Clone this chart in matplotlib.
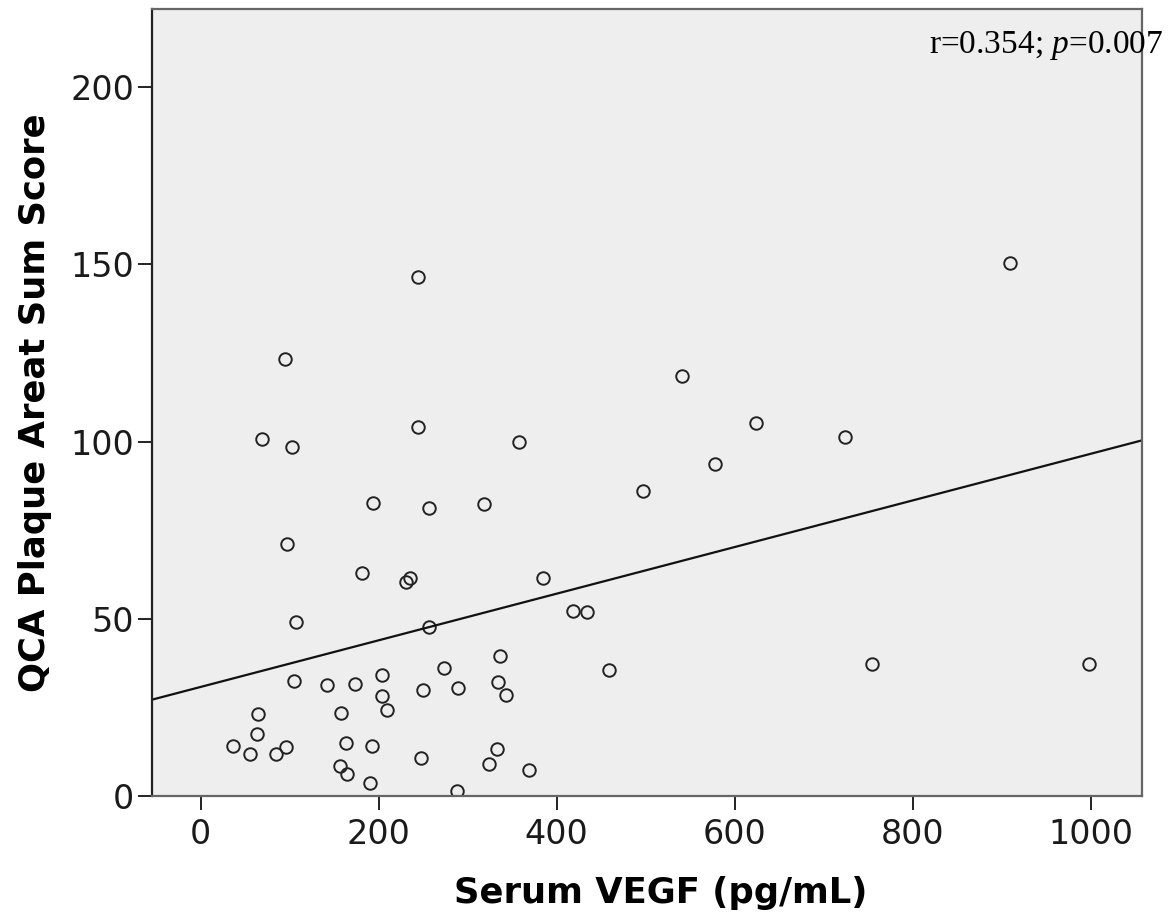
import numpy as np
import matplotlib
matplotlib.use("Agg")
import matplotlib.pyplot as plt

# values
vegf = [36, 55.4, 63.6, 64.7, 69.2, 84.6, 95.1, 95.8, 96.6, 102.6,
        104.8, 107.1, 141.6, 156.5, 157.3, 162.9, 164.7, 173.4, 181.6, 190.2,
        192.1, 193.8, 203.4, 203.4, 209, 230.7, 235.2, 243.8, 244.5, 247.2,
        249.4, 256.2, 256.2, 273, 288.3, 289.1, 318.3, 323.6, 333.3, 334.4,
        336.6, 343, 357.3, 369.2, 385, 418.7, 433.7, 459.1, 497, 540.8,
        578.2, 624.3, 724.3, 753.9, 909.3, 998.4]
plaque = [14.1, 11.9, 17.4, 23.1, 100.8, 11.9, 123.4, 13.9, 71.1, 98.5,
          32.5, 49.0, 31.3, 8.6, 23.4, 14.9, 6.2, 31.6, 62.9, 3.6,
          14.2, 82.7, 34.2, 28.1, 24.3, 60.5, 61.4, 146.5, 104.0, 10.8,
          29.9, 81.3, 47.8, 36.0, 1.5, 30.4, 82.3, 9.1, 13.2, 32.3,
          39.6, 28.5, 99.8, 7.3, 61.5, 52.3, 51.8, 35.6, 86.2, 118.6,
          93.7, 105.3, 101.2, 37.3, 150.5, 37.3]

x_ticks = [0, 200, 400, 600, 800, 1000]
y_ticks = [0, 50, 100, 150, 200]
x_range = (-55, 1057)
y_range = (0, 222)
stats_text = "r=0.354; $\\mathit{p}$=0.007"

# serif italic for the p in the stats note
plt.rcParams["mathtext.fontset"] = "custom"
plt.rcParams["mathtext.rm"] = "Liberation Serif"
plt.rcParams["mathtext.it"] = "Liberation Serif:italic"

fig = plt.figure(figsize=(11.72, 9.19), dpi=100)
ax = fig.add_axes([0.1294, 0.1338, 0.8447, 0.8561])
ax.set_facecolor("#eeeeee")

ax.plot(vegf, plaque, "o", ms=9, mfc="none", mec="#222222", mew=1.4)

# linear fit line across the whole axis
slope, intercept = np.polyfit(vegf, plaque, 1)
fx = np.array(x_range)
ax.plot(fx, intercept + slope * fx, color="#111111", lw=1.6)

ax.set_xlim(*x_range)
ax.set_ylim(*y_range)
ax.set_xticks(x_ticks)
ax.set_yticks(y_ticks)

for side in ["top", "right", "bottom"]:
    ax.spines[side].set_color("#666666")
    ax.spines[side].set_linewidth(1.6)
ax.spines["left"].set_color("#222222")
ax.spines["left"].set_linewidth(1.6)

ax.tick_params(axis="x", length=10, width=1.4, color="#222222",
               labelsize=24, labelcolor="#1a1a1a", pad=6)
ax.tick_params(axis="y", length=10, width=1.4, color="#222222",
               labelsize=24, labelcolor="#1a1a1a", pad=2.5)

ax.set_xlabel("Serum VEGF (pg/mL)", fontsize=25.5, fontweight="bold")
ax.set_ylabel("QCA Plaque Areat Sum Score", fontsize=25.5, fontweight="bold")
ax.xaxis.label.set_va("baseline")
ax.xaxis.set_label_coords(0.5145, -0.136)
ax.yaxis.label.set_va("baseline")
ax.yaxis.set_label_coords(-0.1078, 0.5)

ax.text(0.785, 0.944, stats_text, transform=ax.transAxes,
        family="Liberation Serif", fontsize=24, va="baseline", ha="left",
        clip_on=False)

fig.savefig("out.png", dpi=100)
